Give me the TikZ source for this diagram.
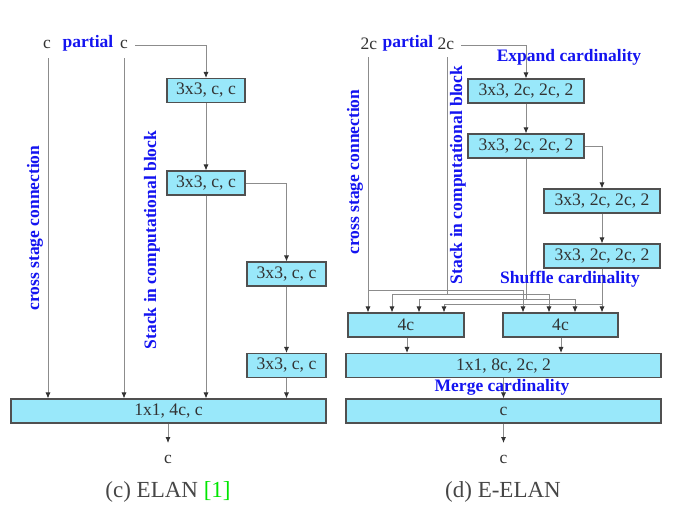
\documentclass[tikz,border=0pt]{standalone}
\usepackage{fontspec}
\setmainfont{Liberation Serif}
\usetikzlibrary{arrows.meta}
\definecolor{boxfill}{RGB}{153,232,250}
\definecolor{boxline}{RGB}{80,80,80}
\definecolor{wirec}{RGB}{140,140,140}
\definecolor{txt}{RGB}{50,50,50}
\definecolor{lblc}{RGB}{20,20,240}
\definecolor{refg}{RGB}{0,230,0}
\begin{document}
\begin{tikzpicture}[x=1pt,y=-1pt,
  blk/.style={draw=boxline, fill=boxfill, line width=1.1pt, inner sep=0pt, minimum height=24, text=txt, font=\fontsize{17.6}{18}\selectfont},
  wire/.style={draw=wirec, line width=0.8pt},
  arr/.style={wire, -{Latex[length=6,width=5,color=black!80]}},
  lbl/.style={text=lblc, inner sep=0pt, font=\fontsize{17.5}{18}\selectfont\bfseries},
  plain/.style={text=txt, inner sep=0pt, font=\fontsize{17.5}{18}\selectfont},
  captxt/.style={text=txt!90, inner sep=0pt, font=\fontsize{23}{24}\selectfont},
]
\useasboundingbox (0,0) rectangle (688,520);

% ---------------- (c) ELAN ----------------
\node[plain] (cinL) at (47,44) {c};
\node[lbl] (partL) at (88,43) {partial};
\node[plain] (cinR) at (124,44) {c};

\node[blk, minimum width=78] (b1) at (206,90.5) {3x3, c, c};
\node[blk, minimum width=78] (b2) at (206,183) {3x3, c, c};
\node[blk, minimum width=79] (b3) at (286.5,274) {3x3, c, c};
\node[blk, minimum width=79] (b4) at (286.5,365.5) {3x3, c, c};
\node[blk, minimum width=315] (big) at (168.5,411) {1x1, 4c, c};

\coordinate (sL1) at (48,58);
\coordinate (sL2) at (124,58);
\coordinate (outL) at (168,443);

\draw[arr] ([xshift=7,yshift=-1]cinR.east) -| (b1.north);
\draw[arr] (b1.south) -- (b2.north);
\draw[arr] (b2.east) -| (b3.north);
\draw[arr] (b3.south) -- (b4.north);
\draw[arr] (sL1) -- (sL1 |- big.north);
\draw[arr] (sL2) -- (sL2 |- big.north);
\draw[arr] (b2.south) -- (b2.south |- big.north);
\draw[arr] (b4.south) -- (b4.south |- big.north);
\draw[arr] (outL |- big.south) -- (outL);
\node[plain] (coutL) at (168,459) {c};

\node[lbl, rotate=90] (csL) at (35,228) {cross stage connection};
\node[lbl, rotate=90] (stL) at (152,240) {Stack in computational block};

\node[captxt] (capL) at (168,492) {(c) ELAN \textcolor{refg}{[1]}};

% ---------------- (d) E-ELAN ----------------
\node[plain] (dinL) at (369,44) {2c};
\node[lbl] (partR) at (408,43) {partial};
\node[plain] (dinR) at (446,44) {2c};
\node[lbl] (expand) at (569,57) {Expand cardinality};

\node[blk, minimum width=116] (A) at (526,91) {3x3, 2c, 2c, 2};
\node[blk, minimum width=116] (B) at (526,146) {3x3, 2c, 2c, 2};
\node[blk, minimum width=116] (C) at (602,201) {3x3, 2c, 2c, 2};
\node[blk, minimum width=116] (D) at (602,256) {3x3, 2c, 2c, 2};

\node[blk, minimum width=116] (fL) at (406,325) {4c};
\node[blk, minimum width=115] (fR) at (560.5,325) {4c};
\node[blk, minimum width=315] (merge) at (503.5,365.5) {1x1, 8c, 2c, 2};
\node[blk, minimum width=315] (cb) at (503.5,411) {c};

\draw[arr] ([xshift=7,yshift=-1]dinR.east) -| (A.north);
\draw[arr] (A.south) -- (B.north);
\draw[arr] (B.east) -| (C.north);
\draw[arr] (C.south) -- (D.north);

% shuffle routing
\coordinate (s1) at (368,57);
\coordinate (j1) at (368,290);
\coordinate (s2) at (447,57);
\coordinate (j2) at (447,294);
\coordinate (j3) at (526,299);
\coordinate (j4) at (602,304);

\draw[arr] (s1) -- (s1 |- fL.north);
\draw[wire] (j1) -| (523,300);
\draw[arr] (523,300) -- (523,0 |- fR.north);

\draw[wire] (s2) -- (j2);
\draw[wire] (392,294) -- (549,294);
\draw[arr] (392,294) -- (392,0 |- fL.north);
\draw[arr] (549,294) -- (549,0 |- fR.north);

\draw[wire] (B.south) -- (j3);
\draw[wire] (419,299) -- (575,299);
\draw[arr] (419,299) -- (419,0 |- fL.north);
\draw[arr] (575,299) -- (575,0 |- fR.north);

\draw[arr] (D.south) -- (D.south |- fR.north);
\draw[wire] (444,304) -- (j4);
\draw[arr] (444,304) -- (444,0 |- fL.north);

\draw[arr] (407,0 |- fL.south) -- (407,0 |- merge.north);
\draw[arr] (561,0 |- fR.south) -- (561,0 |- merge.north);
\draw[arr] (merge.south) -- (cb.north);
\coordinate (outR) at (503.5,443);
\draw[arr] (cb.south) -- (outR);
\node[plain] (coutR) at (503.5,459) {c};

\node[lbl] (shuffle) at (570,279) {Shuffle cardinality};
\node[lbl] (mergelbl) at (502,387) {Merge cardinality};
\node[lbl, rotate=90] (csR) at (355,172) {cross stage connection};
\node[lbl, rotate=90] (stR) at (458,175) {Stack in computational block};

\node[captxt] (capR) at (503,492) {(d) E-ELAN};
\end{tikzpicture}
\end{document}
